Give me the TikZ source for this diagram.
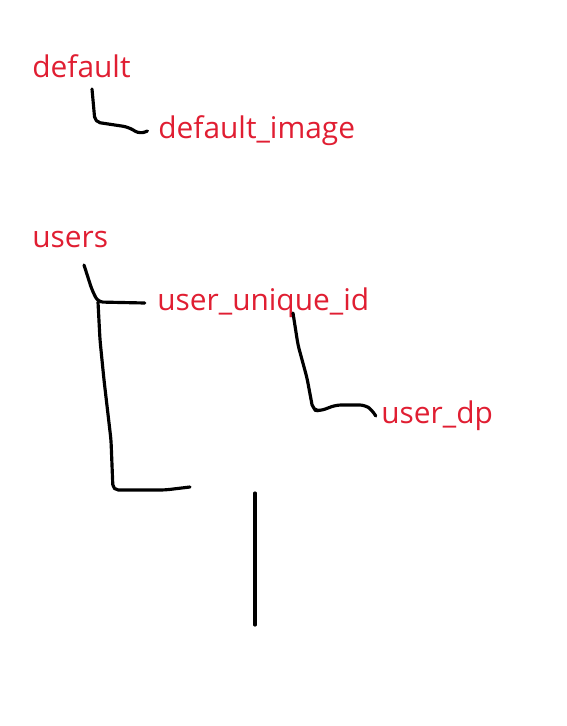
\documentclass[tikz,border=0pt]{standalone}
\usepackage{fontspec}
\setmainfont{Open Sans}
\usepackage{tikz}
\definecolor{sketchred}{RGB}{224,30,50}

\begin{document}
\begin{tikzpicture}[x=0.02cm, y=-0.02cm,
	every node/.style={font=\fontsize{17}{20}\selectfont, text=sketchred, inner sep=0pt, anchor=west},
	stroke/.style={line width=1.8pt, line cap=round, line join=round, rounded corners=3pt}]
	\useasboundingbox (0,0) rectangle (566,726);
	\node (default) at (32,66) {default};
	\node (defaultimg) at (158,131) {default\_image};
	\node (users) at (32,240) {users};
	\node (uid) at (157,303) {user\_unique\_id};
	\node (dp) at (381,416) {user\_dp};
	\coordinate (fork) at (98,302);
	\coordinate (loose) at (190,487);
	% default branch
	\draw[stroke] (92,89) -- (95,122) -- (128,127) -- (140,134) -- ([xshift=-6pt]defaultimg.west);
	% users branches
	\draw[stroke] (84,265) -- (92,290) -- (fork) -- ([xshift=-7pt]uid.west);
	\draw[stroke] (fork) -- (100,340) -- (104,380) -- (111,440) -- (113,490) -- (165,490) -- (loose);
	\draw[stroke] (293,313) -- (298,345) -- (307,378) -- (313,410) -- (320,411) -- (336,405) -- (365,405) -- (372,410) -- ([xshift=-3pt]dp.west);
	\draw[stroke] (255,493) -- (255,625);
\end{tikzpicture}
\end{document}
